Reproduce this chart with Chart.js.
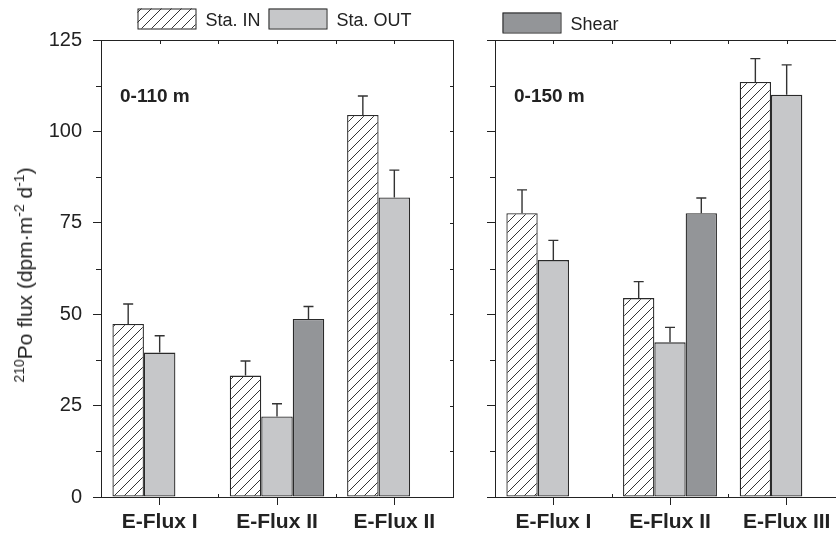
<!DOCTYPE html>
<html>
<head>
<meta charset="utf-8">
<script src="https://cdn.jsdelivr.net/npm/chart.js@4/dist/chart.umd.min.js"></script>
<style>
  html, body { margin: 0; padding: 0; background: #fff; overflow: hidden; }
  #wrap { position: relative; width: 836px; height: 535px; overflow: hidden; background: #fff; }
  #left { position: absolute; left: 0; top: 0; }
  #right { position: absolute; left: 460px; top: 0; }
  #ytitle {
    position: absolute; left: 25px; top: 275px;
    transform: translate(-50%, -50%) rotate(-90deg);
    white-space: nowrap; color: #222;
    font: 21px "Liberation Sans", Arial, sans-serif;
  }
  #ytitle sup { font-size: 14px; vertical-align: 0.55em; line-height: 0; }
</style>
</head>
<body>
<div id="wrap">
  <canvas id="left" width="470" height="535"></canvas>
  <canvas id="right" width="400" height="535"></canvas>
  <div id="ytitle"><sup>210</sup>Po flux (dpm·m<sup>-2</sup> d<sup>-1</sup>)</div>
</div>
<script>
// Categories of the two depth-integrated panels
const leftCategories = ['E-Flux I', 'E-Flux II', 'E-Flux II'];
const rightCategories = ['E-Flux I', 'E-Flux II', 'E-Flux III'];
const seriesNames = ['Sta. IN', 'Sta. OUT', 'Shear'];
const yTickValues = [0, 25, 50, 75, 100, 125];

// 0-110 m fluxes and their (upper) errors
const leftStaIn = [47.3, 33.2, 104.5];
const leftStaInErr = [5.5, 4.0, 5.2];
const leftStaOut = [39.5, 22.0, 81.9];
const leftStaOutErr = [4.6, 3.5, 7.5];
const leftShear = [null, 48.7, null];
const leftShearErr = [null, 3.4, null];

// 0-150 m fluxes and their (upper) errors
const rightStaIn = [77.6, 54.4, 113.5];
const rightStaInErr = [6.4, 4.5, 6.4];
const rightStaOut = [64.8, 42.3, 110.0];
const rightStaOutErr = [5.4, 4.1, 8.2];
const rightShear = [null, 77.6, null];
const rightShearErr = [null, 4.2, null];

const INK = '#222';
const FONT = '"Liberation Sans", Arial, sans-serif';
const OUT_GRAY = '#c6c7c9';
const SHEAR_GRAY = '#939598';

function hatchPattern(ctx) {
  const s = 10;
  const c = document.createElement('canvas');
  c.width = s; c.height = s;
  const g = c.getContext('2d');
  g.fillStyle = '#fff';
  g.fillRect(0, 0, s, s);
  g.strokeStyle = '#333';
  g.lineWidth = 1;
  g.beginPath();
  g.moveTo(-1, s + 1); g.lineTo(s + 1, -1);
  g.moveTo(-2, 2); g.lineTo(2, -2);
  g.moveTo(s - 2, s + 2); g.lineTo(s + 2, s - 2);
  g.stroke();
  return ctx.createPattern(c, 'repeat');
}

function crisp(v) { return Math.round(v) + 0.5; }

// Box frame, minor/inner ticks, error bars, panel label and legend
const decorPlugin = {
  id: 'decor',
  afterDatasetsDraw(chart, args, o) {
    const { ctx, chartArea: a, scales: { x, y } } = chart;
    ctx.save();
    ctx.strokeStyle = INK;
    ctx.lineWidth = 1;
    ctx.beginPath();
    // top and right border
    ctx.moveTo(a.left, crisp(a.top)); ctx.lineTo(a.right + 1, crisp(a.top));
    ctx.moveTo(crisp(a.right), a.top); ctx.lineTo(crisp(a.right), a.bottom + 1);
    // minor ticks on the left axis (outward) and all ticks on the right border (inward)
    for (let v = 0; v <= 125; v += 12.5) {
      const py = crisp(y.getPixelForValue(v));
      if (v % 25 !== 0) { ctx.moveTo(a.left - 5, py); ctx.lineTo(a.left, py); }
      if (v > 0 && v < 125) { ctx.moveTo(a.right - 3, py); ctx.lineTo(a.right, py); }
    }
    // top ticks at centres and boundaries; bottom boundary ticks
    const n = chart.data.labels.length;
    for (let i = 0; i < n; i++) {
      const cx = crisp(x.getPixelForValue(i));
      ctx.moveTo(cx, a.top); ctx.lineTo(cx, a.top + 4);
      if (i < n - 1) {
        const bx = crisp((x.getPixelForValue(i) + x.getPixelForValue(i + 1)) / 2);
        ctx.moveTo(bx, a.top); ctx.lineTo(bx, a.top + 4);
        ctx.moveTo(bx, a.bottom); ctx.lineTo(bx, a.bottom - 3);
      }
    }
    ctx.stroke();

    // upper error bars
    ctx.strokeStyle = '#333';
    ctx.lineWidth = 1.4;
    chart.data.datasets.forEach((ds, di) => {
      const meta = chart.getDatasetMeta(di);
      ds.data.forEach((v, j) => {
        if (v == null || ds.errors[j] == null) return;
        const el = meta.data[j];
        const y0 = y.getPixelForValue(v);
        const y1 = y.getPixelForValue(v + ds.errors[j]);
        ctx.beginPath();
        ctx.moveTo(el.x, y0); ctx.lineTo(el.x, y1);
        ctx.moveTo(el.x - 5, y1); ctx.lineTo(el.x + 5, y1);
        ctx.stroke();
      });
    });

    // depth range label
    ctx.fillStyle = INK;
    ctx.font = 'bold 19px ' + FONT;
    ctx.textBaseline = 'alphabetic';
    ctx.fillText(o.depth, a.left + 19, 102);

    // legend entries
    ctx.font = '18px ' + FONT;
    o.legend.forEach(item => {
      const ds = chart.data.datasets[item.index];
      ctx.fillStyle = ds.backgroundColor;
      ctx.fillRect(item.x, item.y, 58, 20);
      ctx.strokeStyle = INK;
      ctx.lineWidth = 1;
      ctx.strokeRect(item.x + 0.5, item.y + 0.5, 58, 20);
      ctx.fillStyle = INK;
      ctx.fillText(ds.label, item.x + 68, item.y + 17);
    });
    ctx.restore();
  }
};

function makeChart(id, labels, values, errors, yWidth, padRight, depth, legend) {
  const canvas = document.getElementById(id);
  const ctx = canvas.getContext('2d');
  const fills = [hatchPattern(ctx), OUT_GRAY, SHEAR_GRAY];
  return new Chart(ctx, {
    type: 'bar',
    data: {
      labels: labels,
      datasets: seriesNames.map((name, i) => ({
        label: name,
        data: values[i],
        errors: errors[i],
        backgroundColor: fills[i],
        borderColor: '#2a2a2a',
        borderWidth: 1.3,
        borderSkipped: false,
        categoryPercentage: 0.805,
        barPercentage: 1.0
      }))
    },
    options: {
      responsive: false,
      animation: false,
      layout: { padding: { top: 40, right: padRight, bottom: 0, left: 0 } },
      plugins: {
        legend: { display: false },
        tooltip: { enabled: false },
        decor: { depth: depth, legend: legend }
      },
      scales: {
        x: {
          grid: { display: true, drawOnChartArea: false, offset: false, tickLength: 8, color: INK },
          border: { display: true, color: INK, width: 1 },
          ticks: { color: INK, font: { family: FONT, size: 21, weight: 'bold' }, padding: 5, maxRotation: 0 },
          afterFit(s) { s.height = 38; }
        },
        y: {
          min: 0, max: 125,
          afterBuildTicks(s) { s.ticks = yTickValues.map(v => ({ value: v })); },
          grid: { display: true, drawOnChartArea: false, tickLength: 8, color: INK },
          border: { display: true, color: INK, width: 1 },
          ticks: { display: yWidth > 50, color: INK, font: { family: FONT, size: 20 }, padding: 11 },
          afterFit(s) { s.width = yWidth; }
        }
      }
    },
    plugins: [decorPlugin]
  });
}

makeChart('left', leftCategories,
  [leftStaIn, leftStaOut, leftShear],
  [leftStaInErr, leftStaOutErr, leftShearErr],
  101, 17, '0-110 m',
  [{ index: 0, x: 137.5, y: 8.5 }, { index: 1, x: 268.5, y: 8.5 }]);

makeChart('right', rightCategories,
  [rightStaIn, rightStaOut, rightShear],
  [rightStaInErr, rightStaOutErr, rightShearErr],
  35, 15, '0-150 m',
  [{ index: 2, x: 42.5, y: 12.5 }]);
</script>
</body>
</html>
